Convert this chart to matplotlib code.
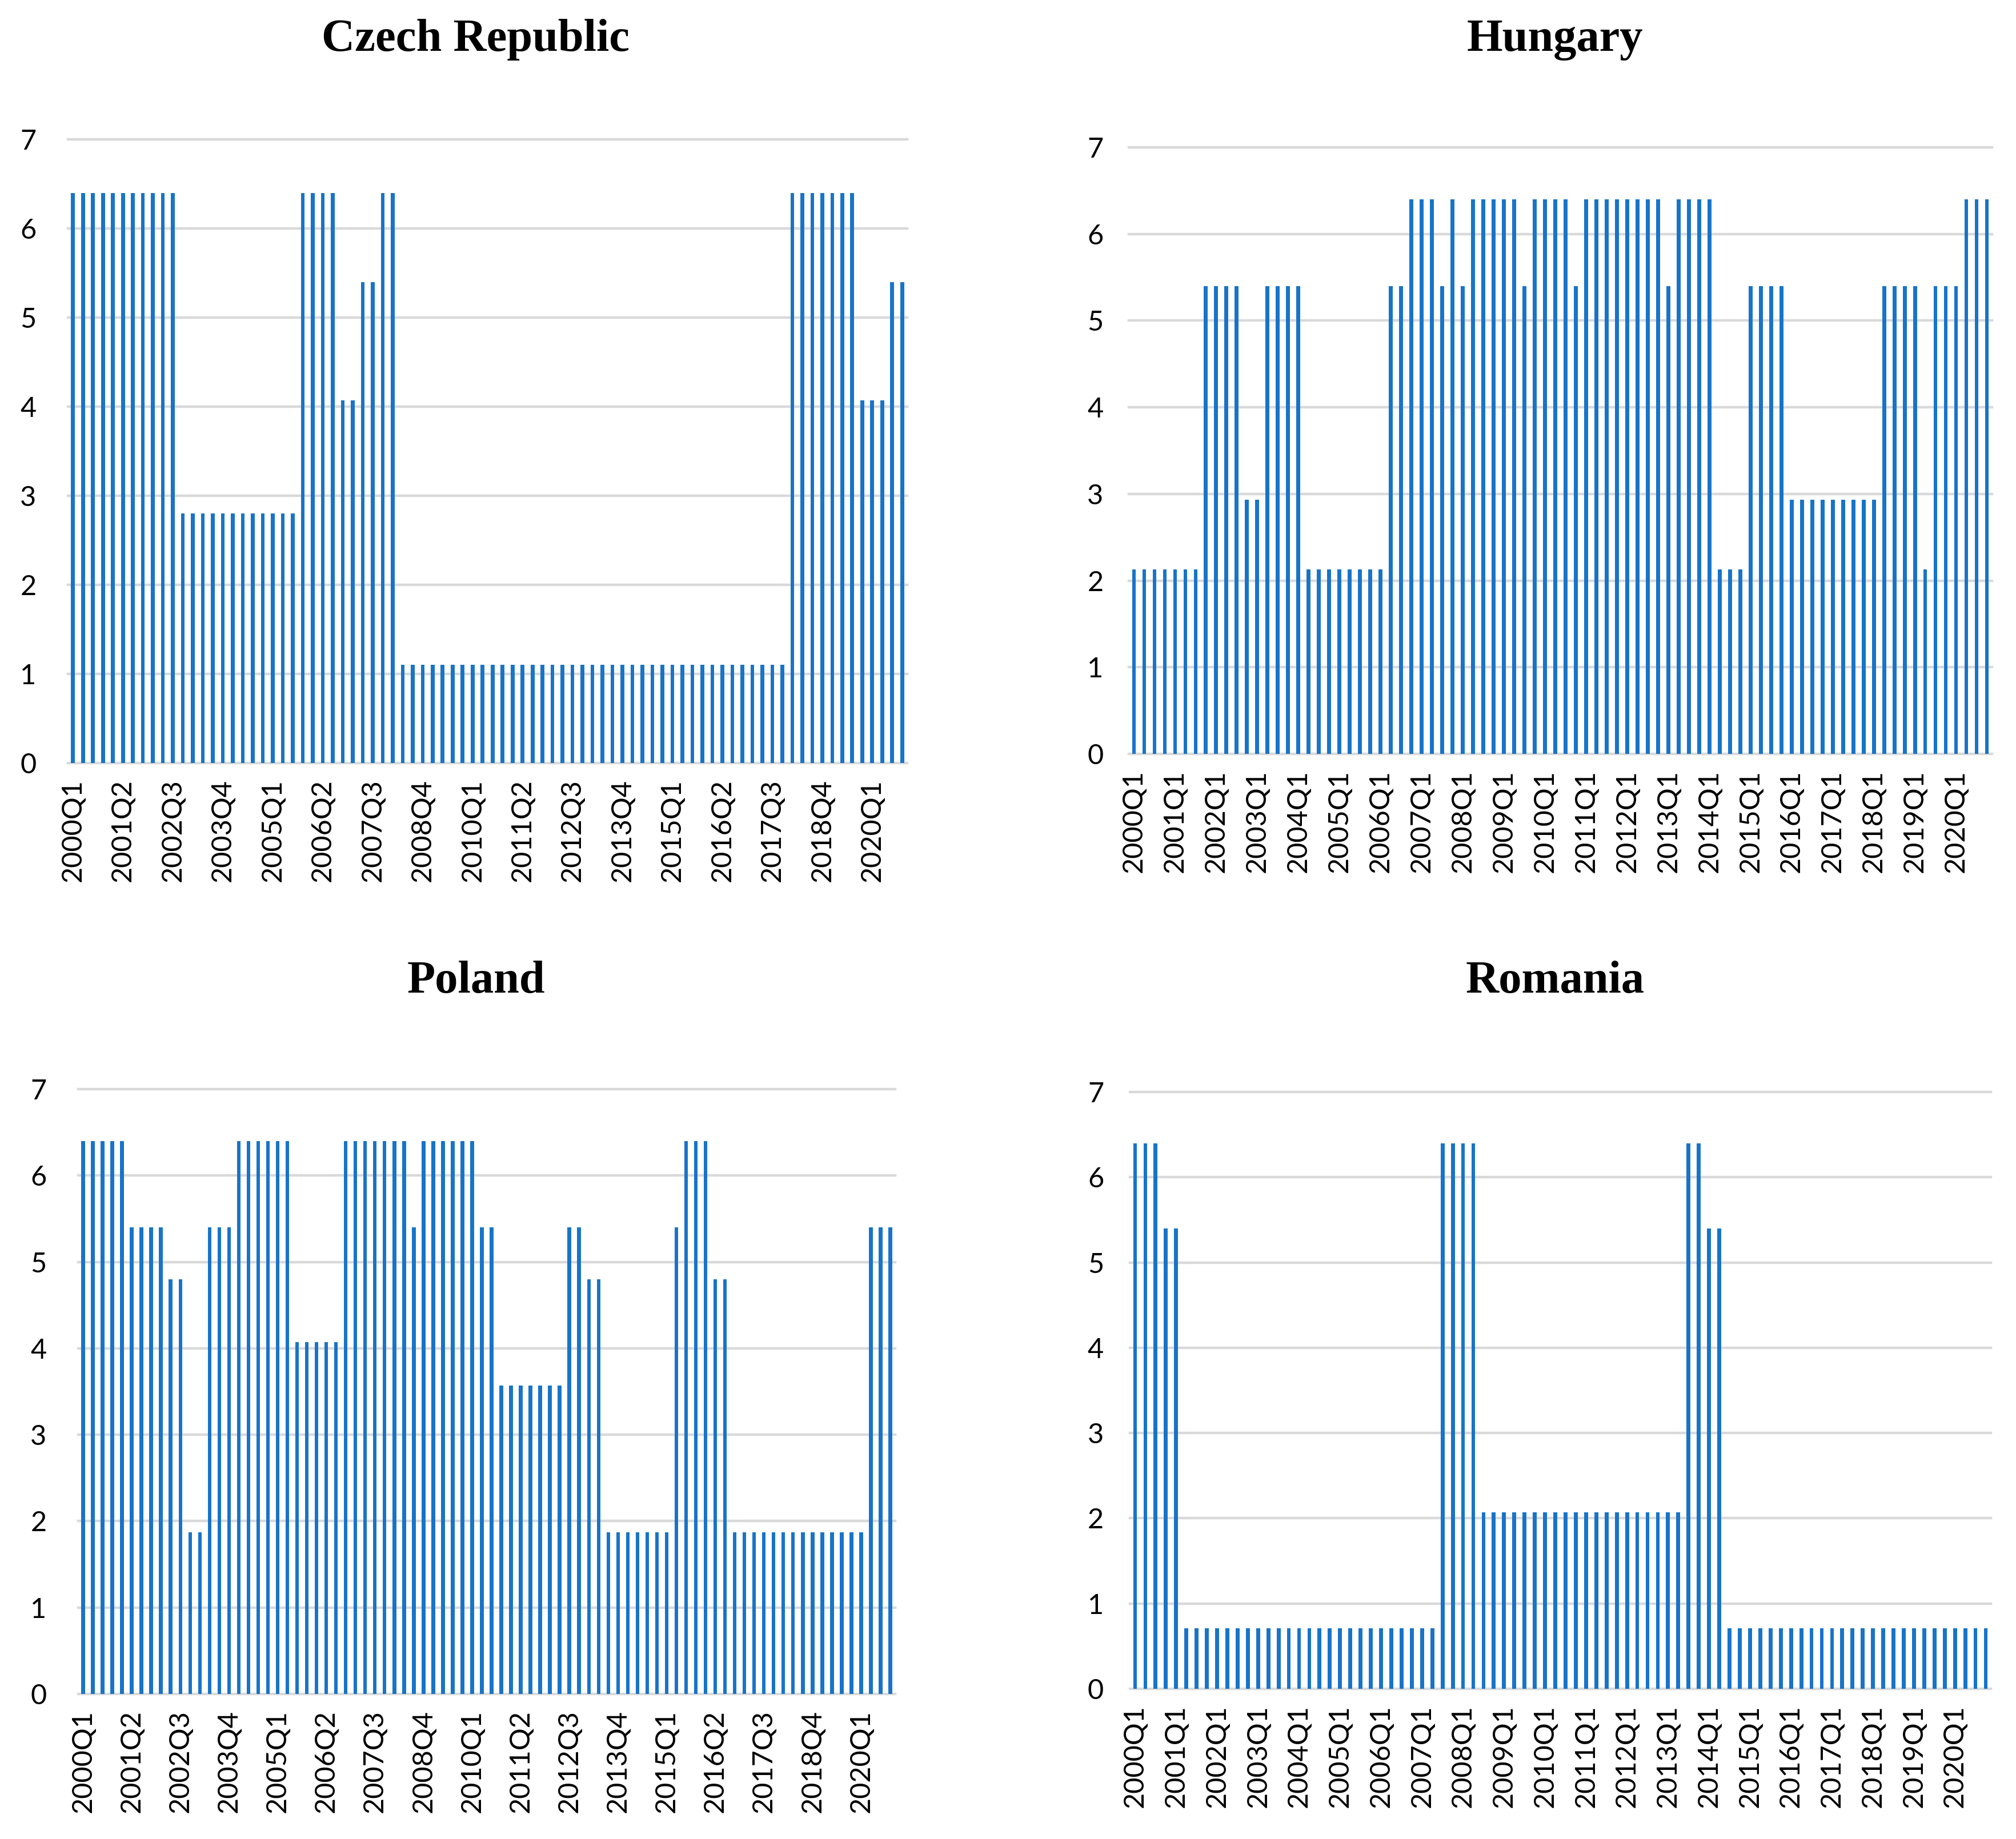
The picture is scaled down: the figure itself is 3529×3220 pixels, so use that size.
import matplotlib
matplotlib.use("Agg")
import matplotlib.pyplot as plt

years = list(range(2000, 2021))
quarters = [f"{y}Q{q}" for y in years for q in range(1, 5)]

czech = [
    6.4, 6.4, 6.4, 6.4,   # 2000
    6.4, 6.4, 6.4, 6.4,   # 2001
    6.4, 6.4, 6.4, 2.8,   # 2002
    2.8, 2.8, 2.8, 2.8,   # 2003
    2.8, 2.8, 2.8, 2.8,   # 2004
    2.8, 2.8, 2.8, 6.4,   # 2005
    6.4, 6.4, 6.4, 4.07,  # 2006
    4.07, 5.4, 5.4, 6.4,  # 2007
    6.4, 1.1, 1.1, 1.1,   # 2008
    1.1, 1.1, 1.1, 1.1,   # 2009
    1.1, 1.1, 1.1, 1.1,   # 2010
    1.1, 1.1, 1.1, 1.1,   # 2011
    1.1, 1.1, 1.1, 1.1,   # 2012
    1.1, 1.1, 1.1, 1.1,   # 2013
    1.1, 1.1, 1.1, 1.1,   # 2014
    1.1, 1.1, 1.1, 1.1,   # 2015
    1.1, 1.1, 1.1, 1.1,   # 2016
    1.1, 1.1, 1.1, 1.1,   # 2017
    6.4, 6.4, 6.4, 6.4,   # 2018
    6.4, 6.4, 6.4, 4.07,  # 2019
    4.07, 4.07, 5.4, 5.4, # 2020
]

hungary = [
    2.13, 2.13, 2.13, 2.13,  # 2000
    2.13, 2.13, 2.13, 5.4,   # 2001
    5.4, 5.4, 5.4, 2.93,     # 2002
    2.93, 5.4, 5.4, 5.4,     # 2003
    5.4, 2.13, 2.13, 2.13,   # 2004
    2.13, 2.13, 2.13, 2.13,  # 2005
    2.13, 5.4, 5.4, 6.4,     # 2006
    6.4, 6.4, 5.4, 6.4,      # 2007
    5.4, 6.4, 6.4, 6.4,      # 2008
    6.4, 6.4, 5.4, 6.4,      # 2009
    6.4, 6.4, 6.4, 5.4,      # 2010
    6.4, 6.4, 6.4, 6.4,      # 2011
    6.4, 6.4, 6.4, 6.4,      # 2012
    5.4, 6.4, 6.4, 6.4,      # 2013
    6.4, 2.13, 2.13, 2.13,   # 2014
    5.4, 5.4, 5.4, 5.4,      # 2015
    2.93, 2.93, 2.93, 2.93,  # 2016
    2.93, 2.93, 2.93, 2.93,  # 2017
    2.93, 5.4, 5.4, 5.4,     # 2018
    5.4, 2.13, 5.4, 5.4,     # 2019
    5.4, 6.4, 6.4, 6.4,      # 2020
]

poland = [
    6.4, 6.4, 6.4, 6.4,      # 2000
    6.4, 5.4, 5.4, 5.4,      # 2001
    5.4, 4.8, 4.8, 1.87,     # 2002
    1.87, 5.4, 5.4, 5.4,     # 2003
    6.4, 6.4, 6.4, 6.4,      # 2004
    6.4, 6.4, 4.07, 4.07,    # 2005
    4.07, 4.07, 4.07, 6.4,   # 2006
    6.4, 6.4, 6.4, 6.4,      # 2007
    6.4, 6.4, 5.4, 6.4,      # 2008
    6.4, 6.4, 6.4, 6.4,      # 2009
    6.4, 5.4, 5.4, 3.57,     # 2010
    3.57, 3.57, 3.57, 3.57,  # 2011
    3.57, 3.57, 5.4, 5.4,    # 2012
    4.8, 4.8, 1.87, 1.87,    # 2013
    1.87, 1.87, 1.87, 1.87,  # 2014
    1.87, 5.4, 6.4, 6.4,     # 2015
    6.4, 4.8, 4.8, 1.87,     # 2016
    1.87, 1.87, 1.87, 1.87,  # 2017
    1.87, 1.87, 1.87, 1.87,  # 2018
    1.87, 1.87, 1.87, 1.87,  # 2019
    1.87, 5.4, 5.4, 5.4,     # 2020
]

romania = [
    6.4, 6.4, 6.4, 5.4,      # 2000
    5.4, 0.71, 0.71, 0.71,   # 2001
    0.71, 0.71, 0.71, 0.71,  # 2002
    0.71, 0.71, 0.71, 0.71,  # 2003
    0.71, 0.71, 0.71, 0.71,  # 2004
    0.71, 0.71, 0.71, 0.71,  # 2005
    0.71, 0.71, 0.71, 0.71,  # 2006
    0.71, 0.71, 6.4, 6.4,    # 2007
    6.4, 6.4, 2.07, 2.07,    # 2008
    2.07, 2.07, 2.07, 2.07,  # 2009
    2.07, 2.07, 2.07, 2.07,  # 2010
    2.07, 2.07, 2.07, 2.07,  # 2011
    2.07, 2.07, 2.07, 2.07,  # 2012
    2.07, 2.07, 6.4, 6.4,    # 2013
    5.4, 5.4, 0.71, 0.71,    # 2014
    0.71, 0.71, 0.71, 0.71,  # 2015
    0.71, 0.71, 0.71, 0.71,  # 2016
    0.71, 0.71, 0.71, 0.71,  # 2017
    0.71, 0.71, 0.71, 0.71,  # 2018
    0.71, 0.71, 0.71, 0.71,  # 2019
    0.71, 0.71, 0.71, 0.71,  # 2020
]

titles = ["Czech Republic", "Hungary", "Poland", "Romania"]
series = [czech, hungary, poland, romania]
label_step = [5, 4, 5, 4]
y_ticks = [0, 1, 2, 3, 4, 5, 6, 7]

W, H = 3530, 3220
# axes rectangles in pixels: left, right, top(y=7), bottom(y=0)
rects_px = [
    (119, 1588, 244, 1336),
    (1976, 3487, 258, 1320),
    (137, 1567, 1907, 2966),
    (1978, 3485, 1912, 2957),
]
title_px = [(833, 70), (2722, 70), (833, 1718), (2722, 1718)]
ypad = [40, 32, 40, 33]

BAR = "#1874C8"
GRID = "#D9D9D9"
TICKFONT = "Lato"

fig = plt.figure(figsize=(W / 100, H / 100), dpi=100)
fig.patch.set_facecolor("white")

for i in range(4):
    l, r, t, b = rects_px[i]
    ax = fig.add_axes([l / W, 1 - b / H, (r - l) / W, (b - t) / H])
    x = list(range(len(quarters)))
    ax.bar(x, series[i], width=0.38, color=BAR, zorder=3)
    ax.set_xlim(-0.5, len(quarters) - 0.5)
    ax.set_ylim(0, 7)
    ax.set_yticks(y_ticks)
    ax.set_yticklabels([str(v) for v in y_ticks], fontsize=35, family=TICKFONT)
    step = label_step[i]
    ax.set_xticks(x[::step])
    ax.set_xticklabels(quarters[::step], rotation=90, fontsize=35,
                       family=TICKFONT, ha="center", va="top")
    ax.tick_params(axis="both", length=0)
    ax.tick_params(axis="y", pad=ypad[i])
    ax.tick_params(axis="x", pad=20)
    for s in ax.spines.values():
        s.set_visible(False)
    ax.yaxis.grid(True, color=GRID, linewidth=3.2, zorder=0)
    ax.xaxis.grid(False)
    ax.set_axisbelow(True)
    for gl in ax.get_ygridlines():
        gl.set_clip_on(False)
    tx, ty = title_px[i]
    fig.text(tx / W, 1 - ty / H, titles[i], ha="center", va="center",
             fontsize=58, fontweight="bold", family="Liberation Serif")

fig.savefig("out.png", dpi=100, facecolor="white")
